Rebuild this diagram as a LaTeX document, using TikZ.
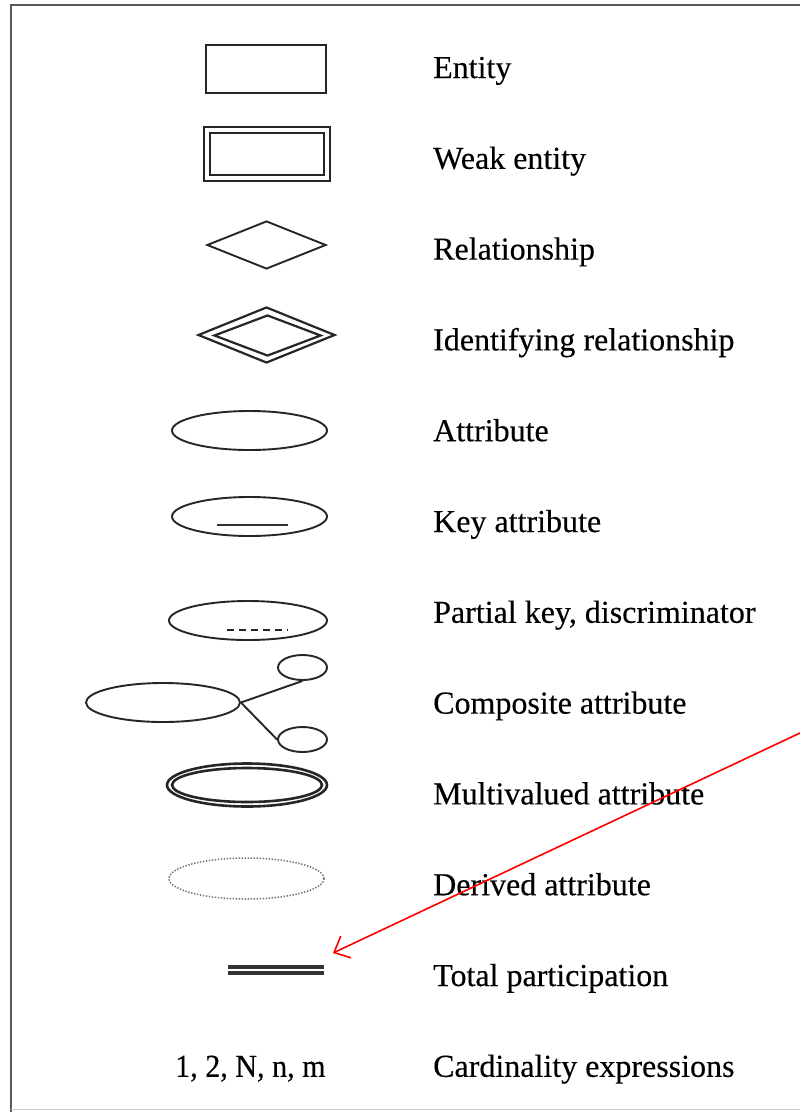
\documentclass[tikz,border=0pt]{standalone}
\usepackage{fontspec}
\setmainfont{Liberation Serif}[FakeBold=0.3]
\usetikzlibrary{shapes.geometric,arrows.meta}
\begin{document}
\begin{tikzpicture}[x=1pt,y=-1pt,
  lbl/.style={anchor=base west,inner sep=0pt,text=black,font=\fontsize{32}{38}\selectfont},
  shp/.style={draw=black!85,line width=1.9pt,inner sep=0pt},
  ell/.style={shp,ellipse},
  dia/.style={shp,diamond},
  frame/.style={draw=black!65,line width=2.2pt}
]
\useasboundingbox (0,0) rectangle (800,1112);
\fill[white] (0,0) rectangle (800,1112);
% frame
\coordinate (ftl) at (11,5);
\coordinate (ftr) at (800,5);
\coordinate (fbl) at (11,1112);
\draw[frame] (ftr) -- (ftl) -- (fbl);
\coordinate (bbl) at (11,1109);
\coordinate (bbr) at (800,1109);
\draw[draw=black!20,line width=1pt] (bbl) -- (bbr);

% Entity
\node[shp,rectangle,minimum width=120pt,minimum height=48pt] (ent) at (266,69) {};
\node[lbl] (tent) at (433,78) {Entity};
% Weak entity
\node[shp,rectangle,line width=2.4pt,minimum width=126pt,minimum height=54pt] (wento) at (267,154) {};
\node[shp,rectangle,line width=2.4pt,minimum width=114pt,minimum height=42pt] (wenti) at (267,154) {};
\node[lbl] (twent) at (433,168.8) {Weak entity};
% Relationship
\node[dia,minimum width=119pt,minimum height=48pt] (rel) at (266.5,245) {};
\node[lbl] (trel) at (433,259.6) {Relationship};
% Identifying relationship
\node[dia,line width=2.2pt,minimum width=137pt,minimum height=56pt] (irelo) at (266.5,335) {};
\node[dia,line width=2.2pt,minimum width=107pt,minimum height=41pt] (ireli) at (267.5,335.5) {};
\node[lbl] (tirel) at (433,350.4) {Identifying relationship};
% Attribute
\node[ell,minimum width=155pt,minimum height=39pt] (att) at (249.5,430.5) {};
\node[lbl] (tatt) at (433,441.2) {Attribute};
% Key attribute
\node[ell,minimum width=155pt,minimum height=39pt] (katt) at (249.5,516.5) {};
\coordinate (kul) at (217,525);
\coordinate (kur) at (288,525);
\draw[black!80,line width=2pt] (kul) -- (kur);
\node[lbl] (tkatt) at (433,532) {Key attribute};
% Partial key
\node[ell,minimum width=158pt,minimum height=39pt] (patt) at (248,620.5) {};
\coordinate (pul) at (227,630);
\coordinate (pur) at (288,630);
\draw[black!85,line width=2.4pt,dash pattern=on 7pt off 5pt] (pul) -- (pur);
\node[lbl] (tpatt) at (433,622.8) {Partial key, discriminator};
% Composite
\node[ell,minimum width=154pt,minimum height=39pt] (catt) at (163,702.5) {};
\node[ell,minimum width=49pt,minimum height=25pt] (cat1) at (302.5,667.5) {};
\node[ell,minimum width=49pt,minimum height=25pt] (cat2) at (302.5,739.5) {};
\draw[black!85,line width=1.9pt] (catt.east) -- (cat1.south);
\draw[black!85,line width=1.9pt] (catt.east) -- (cat2.west);
\node[lbl] (tcatt) at (433,713.6) {Composite attribute};
% Multivalued
\node[ell,line width=2.6pt,minimum width=160pt,minimum height=43pt] (matto) at (247,785) {};
\node[ell,line width=2.6pt,minimum width=150pt,minimum height=34pt] (matti) at (247,785) {};
\node[lbl] (tmatt) at (433,804.4) {Multivalued attribute};
% Derived
\node[ell,draw=black!55,line width=1.5pt,dash pattern=on 1.4pt off 1.6pt,minimum width=155pt,minimum height=41pt] (datt) at (246.5,878.5) {};
\node[lbl] (tdatt) at (433,895.2) {Derived attribute};
% Total participation
\coordinate (tp1l) at (228,967);
\coordinate (tp1r) at (324,967);
\coordinate (tp2l) at (228,973);
\coordinate (tp2r) at (324,973);
\draw[black!80,line width=3.2pt] (tp1l) -- (tp1r);
\draw[black!80,line width=3.2pt] (tp2l) -- (tp2r);
\node[lbl] (ttp) at (433,986) {Total participation};
% Cardinality
\node[lbl,xscale=0.94,anchor=base west] (card) at (175,1076.8) {1, 2, N, n, m};
\node[lbl] (tcard) at (433,1076.8) {Cardinality expressions};
% red arrow
\coordinate (ra) at (800,733);
\coordinate (rb) at (333,953);
\draw[red,line width=1.6pt,-{Straight Barb[length=13pt,width=24pt,line width=1.6pt]}] (ra) -- (rb);
\end{tikzpicture}
\end{document}
